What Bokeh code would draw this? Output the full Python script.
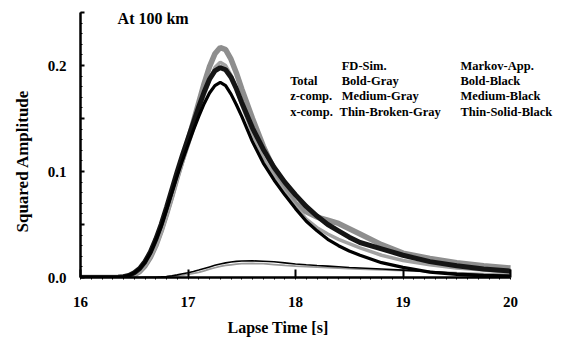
from bokeh.plotting import figure
from bokeh.models import Range1d, FixedTicker, Label, Title
from bokeh.embed import file_html
from bokeh.resources import INLINE

# ---- data ----
t = [16.0, 16.3, 16.35, 16.4, 16.45, 16.5, 16.55, 16.6, 16.65, 16.7,
     16.75, 16.8, 16.85, 16.9, 16.95, 17.0, 17.05, 17.1, 17.15, 17.2,
     17.25, 17.3, 17.35, 17.4, 17.45, 17.5, 17.6, 17.7, 17.8, 17.9,
     18.0, 18.1, 18.2, 18.3, 18.4, 18.5, 18.6, 18.8, 19.0, 19.25,
     19.5, 19.75, 20.0]

fd_total = [0.0, 0.0, 0.0, 0.0002, 0.001, 0.0025, 0.0055, 0.011, 0.019, 0.030,
            0.044, 0.060, 0.077, 0.095, 0.112, 0.129, 0.147, 0.165, 0.183, 0.199,
            0.211, 0.217, 0.215, 0.206, 0.193, 0.178, 0.150, 0.124, 0.102, 0.084,
            0.070, 0.062, 0.057, 0.054, 0.051, 0.046, 0.041, 0.031, 0.023, 0.018,
            0.014, 0.011, 0.009]

fd_z = [0.0, 0.0, 0.0, 0.0002, 0.001, 0.0025, 0.0055, 0.011, 0.019, 0.029,
        0.042, 0.058, 0.075, 0.093, 0.109, 0.124, 0.140, 0.156, 0.172, 0.186,
        0.198, 0.203, 0.200, 0.191, 0.178, 0.163, 0.136, 0.113, 0.095, 0.080,
        0.067, 0.055, 0.047, 0.041, 0.036, 0.032, 0.028, 0.021, 0.016, 0.012,
        0.009, 0.007, 0.005]

fd_x = [0.0, 0.0, 0.0, 0.0, 0.0, 0.0, 0.0, 0.0, 0.0, 0.0002,
        0.0004, 0.0007, 0.0012, 0.0017, 0.0023, 0.003, 0.0039, 0.0048, 0.0062, 0.0078,
        0.0092, 0.0105, 0.0114, 0.0120, 0.0126, 0.0130, 0.0132, 0.0130, 0.0122, 0.0114,
        0.0107, 0.0102, 0.0097, 0.0093, 0.0088, 0.0084, 0.0080, 0.0072, 0.0065, 0.0055,
        0.0045, 0.0037, 0.003]

mk_total = [0.0, 0.0, 0.0002, 0.0007, 0.002, 0.0045, 0.0085, 0.015, 0.024, 0.036,
            0.050, 0.066, 0.083, 0.100, 0.116, 0.131, 0.146, 0.161, 0.175, 0.187,
            0.195, 0.198, 0.196, 0.189, 0.178, 0.165, 0.141, 0.121, 0.104, 0.090,
            0.078, 0.067, 0.058, 0.050, 0.044, 0.038, 0.033, 0.027, 0.021, 0.015,
            0.011, 0.008, 0.006]

mk_z = [0.0, 0.0, 0.0002, 0.0007, 0.002, 0.0044, 0.0083, 0.0145, 0.023, 0.035,
        0.048, 0.064, 0.080, 0.096, 0.111, 0.125, 0.139, 0.152, 0.164, 0.174,
        0.181, 0.184, 0.181, 0.173, 0.163, 0.152, 0.128, 0.108, 0.092, 0.078,
        0.065, 0.053, 0.044, 0.036, 0.030, 0.025, 0.021, 0.014, 0.0095, 0.005,
        0.003, 0.0015, 0.001]

mk_x = [0.0, 0.0, 0.0, 0.0, 0.0, 0.0, 0.0, 0.0001, 0.0002, 0.0003,
        0.0006, 0.001, 0.0017, 0.0025, 0.0035, 0.0045, 0.0057, 0.007, 0.0085, 0.010,
        0.0115, 0.0128, 0.0138, 0.0146, 0.0152, 0.0155, 0.0157, 0.0154, 0.0148, 0.0138,
        0.0128, 0.0120, 0.0113, 0.0107, 0.0101, 0.0095, 0.0090, 0.0080, 0.0070, 0.0055,
        0.0040, 0.0028, 0.002]

x_ticks = [16, 17, 18, 19, 20]
y_ticks = [0, 0.05, 0.1, 0.15, 0.2, 0.25]
y_tick_labels = {0: "0.0", 0.05: "", 0.1: "0.1", 0.15: "", 0.2: "0.2", 0.25: ""}

title_text = "At 100 km"
x_title = "Lapse Time [s]"
y_title = "Squared Amplitude"
col_heads = ["FD-Sim.", "Markov-App."]
row_heads = ["Total", "z-comp.", "x-comp."]
fd_styles = ["Bold-Gray", "Medium-Gray", "Thin-Broken-Gray"]
mk_styles = ["Bold-Black", "Medium-Black", "Thin-Solid-Black"]

FONT = "Liberation Serif"

p = figure(width=568, height=345, output_backend="svg", toolbar_location=None,
           x_range=Range1d(16, 20.465), y_range=Range1d(0, 0.25),
           min_border_left=80, min_border_right=8, min_border_top=12, min_border_bottom=68)
p.outline_line_color = None
p.grid.visible = False
p.background_fill_color = "white"
p.border_fill_color = "white"

# curves
p.line(t, fd_total, line_color="#8e8e8e", line_width=5.5)
p.line(t, fd_z, line_color="#a2a2a2", line_width=3.5)
p.line(t, fd_x, line_color="#9a9a9a", line_width=1.8)
p.line(t, mk_total, line_color="#151515", line_width=5)
p.line(t, mk_z, line_color="#000000", line_width=3.2)
p.line(t, mk_x, line_color="#000000", line_width=1.6)

# main axes (ticks + tick labels)
xa = p.xaxis[0]
xa.bounds = (16, 20)
xa.ticker = FixedTicker(ticks=x_ticks, minor_ticks=[16 + i * 0.1 for i in range(41)])
xa.axis_line_width = 2.5
xa.major_tick_in = 8
xa.major_tick_out = 0
xa.major_tick_line_width = 2
xa.minor_tick_in = 0
xa.minor_tick_out = 2
xa.major_label_standoff = 17
xa.major_label_text_font = FONT
xa.major_label_text_font_style = "bold"
xa.major_label_text_font_size = "15px"
xa.major_label_text_color = "black"

ya = p.yaxis[0]
ya.ticker = FixedTicker(ticks=y_ticks, minor_ticks=[i * 0.01 for i in range(26)])
ya.major_label_overrides = y_tick_labels
ya.axis_line_width = 2.5
ya.major_tick_in = 4
ya.major_tick_out = 0
ya.major_tick_line_width = 2
ya.minor_tick_in = 2
ya.minor_tick_out = 0
ya.major_label_standoff = 14
ya.major_label_text_font = FONT
ya.major_label_text_font_style = "bold"
ya.major_label_text_font_size = "15px"
ya.major_label_text_color = "black"

# axis titles as side titles (so they can be offset like the reference)
p.add_layout(Title(text=x_title, align="left", offset=147, standoff=15,
                   text_font=FONT, text_font_style="bold", text_font_size="16px",
                   text_color="black"), "below")
p.add_layout(Title(text=y_title, align="left", offset=45, standoff=22,
                   vertical_align="top",
                   text_font=FONT, text_font_style="bold", text_font_size="17px",
                   text_color="black"), "left")

# annotations
def lab(x, y, s, size="12.5px"):
    p.add_layout(Label(x=x, y=y, text=s, text_font=FONT, text_font_style="bold",
                       text_font_size=size, text_baseline="middle", text_align="left",
                       text_color="black"))

lab(16.345, 0.2445, title_text, "16px")
row_y = [0.1991, 0.1858, 0.1710, 0.1564]
lab(18.43, row_y[0], col_heads[0])
lab(19.535, row_y[0], col_heads[1])
for i in range(3):
    lab(17.95, row_y[i + 1], row_heads[i])
    lab(18.43 if i < 2 else 18.41, row_y[i + 1], fd_styles[i])
    lab(19.535, row_y[i + 1], mk_styles[i])

open("out.html", "w").write(file_html(p, INLINE))
